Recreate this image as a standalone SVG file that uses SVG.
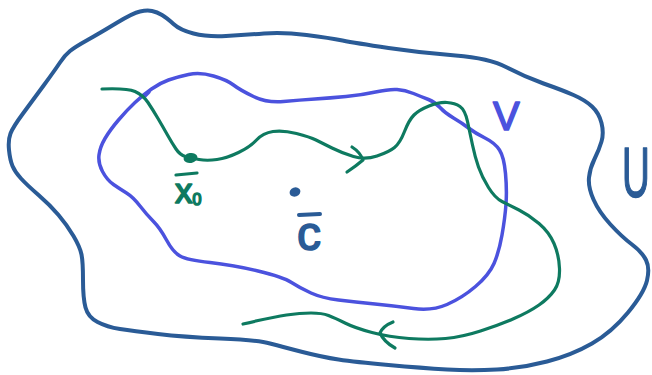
<svg xmlns="http://www.w3.org/2000/svg" width="652" height="375" viewBox="0 0 652 375">
<style>
.u{fill:none;stroke:#2a5b96;stroke-width:4;stroke-linecap:round;stroke-linejoin:round}
.v{fill:none;stroke:#4b52de;stroke-width:3.5;stroke-linecap:round;stroke-linejoin:round}
.g{fill:none;stroke:#0e7a60;stroke-width:3.2;stroke-linecap:round;stroke-linejoin:round}
.lbl{font-family:"Liberation Sans","DejaVu Sans",sans-serif;stroke-width:1.6;stroke-linejoin:round}
</style>
<rect width="652" height="375" fill="#ffffff"/>
<g id="region-U">
<path class="u" d="M140,11.5 Q147,10 152,11 Q157,12 162,15 Q167,18 173.5,24 Q180,30 193.5,33.5 Q207,37 226,36 Q245,35 264,33.5 Q283,32 306.5,35 Q330,38 342.5,40.5 Q355,43 388.5,48 Q422,53 455.5,55.5 Q489,58 507,67.5 Q525,77 543.5,83.5 Q562,90 573.5,95 Q585,100 592,106.5 Q599,113 601.5,123 Q604,133 601.5,141.5 Q599,150 594.5,159 Q590,168 589,177.5 Q588,187 593.5,199.5 Q599,212 610.5,224.5 Q622,237 632,244.5 Q642,252 646,260 Q650,268 647,280.5 Q644,293 628,312.5 Q612,332 592,343.5 Q572,355 547,361.5 Q522,368 497,369.5 Q472,371 447,369.5 Q422,368 388.5,365 Q355,362 338.5,359.5 Q322,357 302.5,352 Q283,347 270,343.5 Q257,340 220,338.5 Q183,337 158,334 Q133,331 120,329 Q107,327 97.5,322 Q88,317 85.5,307.5 Q83,298 83,280 Q83,262 81.5,254.5 Q80,247 73.5,236 Q67,225 58.5,215 Q50,205 38.5,195 Q27,185 21,178.5 Q15,172 12.5,166 Q10,160 9,150 Q8,140 10.5,133.5 Q13,127 23,113.5 Q33,100 44,85 Q55,70 60,62.5 Q65,55 70,51 Q75,47 87.5,40 Q100,33 116.5,23 Q133,13 140,11.5 Z"/>
<text class="lbl" x="0" y="0" transform="translate(622,197) scale(0.55,1)" font-size="70" fill="#2a5b96" stroke="#2a5b96" stroke-width="2.4">U</text>
</g>
<g id="region-V">
<path class="v" d="M151.5,89 Q160,83 168.5,80 Q177,77 188.5,74.5 Q200,72 213.5,76 Q227,80 233.5,85 Q240,90 253.5,96.5 Q267,103 283.5,101.5 Q300,100 315,99 Q330,98 346,96.5 Q362,95 375.5,92 Q389,89 397,89.5 Q405,90 413.5,93.5 Q422,97 428.5,99.5 Q435,102 440,107.5 Q445,113 453.5,118 Q462,123 468.5,128 Q475,133 485,138 Q495,143 499.5,150 Q504,157 505.5,173.5 Q507,190 506,204 Q505,218 502,235 Q499,252 494,263.5 Q489,275 475.5,286.5 Q462,298 447,304.5 Q432,311 413.5,308.5 Q395,306 375,304 Q355,302 338.5,300 Q322,298 311,293 Q300,288 291.5,282.5 Q283,277 258,271 Q233,265 210,262.5 Q187,260 180,256 Q173,252 166.5,240 Q160,228 153.5,221.5 Q147,215 140,206 Q133,197 126.5,193 Q120,189 113.5,184.5 Q107,180 102.5,171.5 Q98,163 99,155 Q100,147 105,138.5 Q110,130 118.5,120 Q127,110 135,102.5 Q143,95 151.5,89 Z"/>
<path class="v" d="M145,96 L149,92"/>
<text class="lbl" x="493" y="130" font-size="40" fill="#4b52de" stroke="#4b52de">V</text>
</g>
<g id="point-x0">
<ellipse cx="190.5" cy="158" rx="7" ry="5" fill="#0e7a60" transform="rotate(-10 190.5 158)"/>
<line class="g" x1="176" y1="175" x2="197" y2="173" stroke-width="3.8"/>
<text class="lbl" x="175" y="203" font-size="35" fill="#0e7a60" stroke="#0e7a60">x<tspan font-size="16" dy="2">0</tspan></text>
</g>
<g id="point-c">
<ellipse cx="295" cy="192" rx="5.5" ry="4.5" fill="#2a5b96" transform="rotate(-20 295 192)"/>
<line class="u" x1="299" y1="215" x2="320" y2="214" stroke-width="3.8"/>
<text class="lbl" x="297" y="250" font-size="48" fill="#2a5b96" stroke="#2a5b96">c</text>
</g>
<g id="connectors">
<path class="g" d="M102,89 Q127,88 135,91.5 Q143,95 148,102.5 Q153,110 158,118.5 Q163,127 167.5,135 Q172,143 176,149 Q180,155 185.5,156.5 Q191,158 199,159.5 Q207,161 217,159.5 Q227,158 238.5,152.5 Q250,147 256.5,140 Q263,133 273,131.5 Q283,130 296.5,133.5 Q310,137 316,140 Q322,143 332,148 Q342,153 353.5,156.5 Q365,160 377,156 Q389,152 394.5,147.5 Q400,143 404.5,131.5 Q409,120 414,115 Q419,110 429,106 Q439,102 447,102.5 Q455,103 460,106.5 Q465,110 467.5,121.5 Q470,133 472.5,145 Q475,157 478.5,167 Q482,177 488.5,187.5 Q495,198 502,201.5 Q509,205 519,210 Q529,215 539,223.5 Q549,232 554,243.5 Q559,255 559.5,268.5 Q560,282 554.5,290 Q549,298 539,305 Q529,312 514,318.5 Q499,325 480.5,331 Q462,337 445.5,338.5 Q429,340 409,338.5 Q389,337 372,332.5 Q355,328 345,323 Q335,318 328.5,315.5 Q322,313 311,313 Q300,313 286.5,315 Q273,317 243,324"/>
<path class="g" d="M352,147 Q360,152 363,160 Q356,166 347,172"/>
<path class="g" d="M393,322 Q383,326 380,333 Q384,342 395,348"/>
</g>
</svg>
